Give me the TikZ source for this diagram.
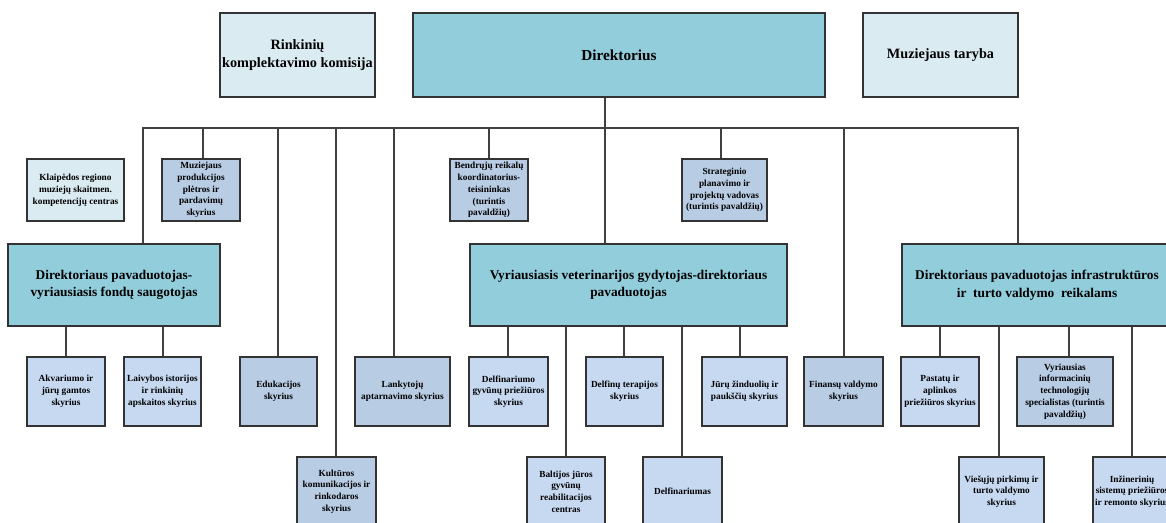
\documentclass[tikz,border=0pt]{standalone}
\usepackage{fontspec}
\setmainfont{Liberation Serif}
\definecolor{lightbox}{HTML}{DAEBF1}
\definecolor{tealbox}{HTML}{92CDDC}
\definecolor{midbox}{HTML}{B8CCE4}
\definecolor{palebox}{HTML}{C6D9F1}
\begin{document}
\begin{tikzpicture}[x=0.02cm,y=-0.02cm,
    box/.style={rectangle,draw=black!80,line width=0.8pt,align=center,inner sep=1pt,
        font=\bfseries\fontsize{5.3}{6.7}\selectfont},
    light/.style={box,fill=lightbox},
    mid/.style={box,fill=midbox},
    pale/.style={box,fill=palebox},
    head/.style={box,fill=tealbox,font=\bfseries\fontsize{7.6}{10}\selectfont},
    big/.style={font=\bfseries\fontsize{8.1}{10.4}\selectfont,minimum height=1.68cm},
    row2/.style={minimum height=1.38cm},
    link/.style={draw=black!75,line width=0.7pt}
]
    \useasboundingbox (0,0) rectangle (1166,523);
    \clip (0,0) rectangle (1166,523);

    % top row
    \node[light,big,minimum width=3.1cm] (rink) at (297.5,55) {Rinkinių\\komplektavimo komisija};
    \node[head,big,minimum width=8.24cm,font=\bfseries\fontsize{8.7}{10.4}\selectfont] (dir) at (619,55) {Direktorius};
    \node[light,big,minimum width=3.1cm] (taryba) at (940.5,55) {Muziejaus taryba};

    % under the director
    \node[light,minimum width=1.94cm,minimum height=1.24cm] (klaip) at (75.5,190) {Klaipėdos regiono\\muziejų skaitmen.\\kompetencijų centras};
    \node[mid,minimum width=1.56cm,minimum height=1.24cm] (prod) at (201,190) {Muziejaus\\produkcijos\\plėtros ir\\pardavimų\\skyrius};
    \node[mid,minimum width=1.56cm,minimum height=1.24cm] (bendr) at (489,190) {Bendrųjų reikalų\\koordinatorius-\\teisininkas\\(turintis\\pavaldžių)};
    \node[mid,minimum width=1.7cm,minimum height=1.24cm] (strat) at (724.5,190) {Strateginio\\planavimo ir\\projektų vadovas\\(turintis pavaldžių)};

    % deputies
    \node[head,minimum width=4.24cm,minimum height=1.64cm] (pavL) at (114,285) {Direktoriaus pavaduotojas-\\vyriausiasis fondų saugotojas};
    \node[head,minimum width=6.34cm,minimum height=1.64cm] (pavM) at (628.5,285) {Vyriausiasis veterinarijos gydytojas-direktoriaus\\pavaduotojas};
    \node[head,minimum width=5.4cm,minimum height=1.64cm] (pavR) at (1037,285) {Direktoriaus pavaduotojas infrastruktūros\\ir~ turto valdymo~ reikalams};

    % departments
    \node[pale,row2,minimum width=1.56cm] (akv) at (66,391.5) {Akvariumo ir\\jūrų gamtos\\skyrius};
    \node[pale,row2,minimum width=1.54cm] (laiv) at (162.5,391.5) {Laivybos istorijos\\ir rinkinių\\apskaitos skyrius};
    \node[mid,row2,minimum width=1.54cm] (eduk) at (278.5,391.5) {Edukacijos\\skyrius};
    \node[mid,row2,minimum width=1.9cm] (lank) at (402.5,391.5) {Lankytojų\\aptarnavimo skyrius};
    \node[pale,row2,minimum width=1.58cm] (delfg) at (508.5,391.5) {Delfinariumo\\gyvūnų priežiūros\\skyrius};
    \node[pale,row2,minimum width=1.54cm] (delft) at (624.5,391.5) {Delfinų terapijos\\skyrius};
    \node[pale,row2,minimum width=1.7cm] (juru) at (744.5,391.5) {Jūrų žinduolių ir\\paukščių skyrius};
    \node[mid,row2,minimum width=1.58cm] (fin) at (843.5,391.5) {Finansų valdymo\\skyrius};
    \node[pale,row2,minimum width=1.56cm] (past) at (940,391.5) {Pastatų ir\\aplinkos\\priežiūros skyrius};
    \node[mid,row2,minimum width=1.92cm] (vinf) at (1065,391.5) {Vyriausias\\informacinių\\technologijų\\specialistas (turintis\\pavaldžių)};

    \node[mid,row2,minimum width=1.58cm] (kult) at (336.5,491.5) {Kultūros\\komunikacijos ir\\rinkodaros\\skyrius};
    \node[pale,row2,minimum width=1.56cm] (balt) at (566,491.5) {Baltijos jūros\\gyvūnų\\reabilitacijos\\centras};
    \node[pale,row2,minimum width=1.58cm] (delfin) at (682.5,491.5) {Delfinariumas};
    \node[pale,row2,minimum width=1.7cm] (viesi) at (1001.5,491.5) {Viešųjų pirkimų ir\\turto valdymo\\skyrius};
    \node[pale,row2,minimum width=1.56cm] (inz) at (1132,491.5) {Inžinerinių\\sistemų priežiūros\\ir remonto skyrius};

    % connectors
    \coordinate (busL) at (143,128);
    \coordinate (busR) at (1018,128);
    \draw[link] (busL |- pavL.north) -- (busL) -- (busR) -- (busR |- pavR.north);
    \coordinate (dmid) at (605,128);
    \draw[link] (dir.south -| dmid) -- (dmid |- pavM.north);
    \foreach \xx/\nd in {203/prod,278/eduk,336/kult,394/lank,489/bendr,721/strat,844/fin} {
        \coordinate (t) at (\xx,128);
        \draw[link] (t) -- (t |- \nd.north);
    }
    \foreach \xx/\up/\nd in {66/pavL/akv,163/pavL/laiv,
        508/pavM/delfg,566/pavM/balt,624/pavM/delft,682/pavM/delfin,740/pavM/juru,
        940/pavR/past,999/pavR/viesi,1069/pavR/vinf,1132/pavR/inz} {
        \coordinate (t) at (\xx,0);
        \draw[link] (\up.south -| t) -- (t |- \nd.north);
    }
\end{tikzpicture}
\end{document}
